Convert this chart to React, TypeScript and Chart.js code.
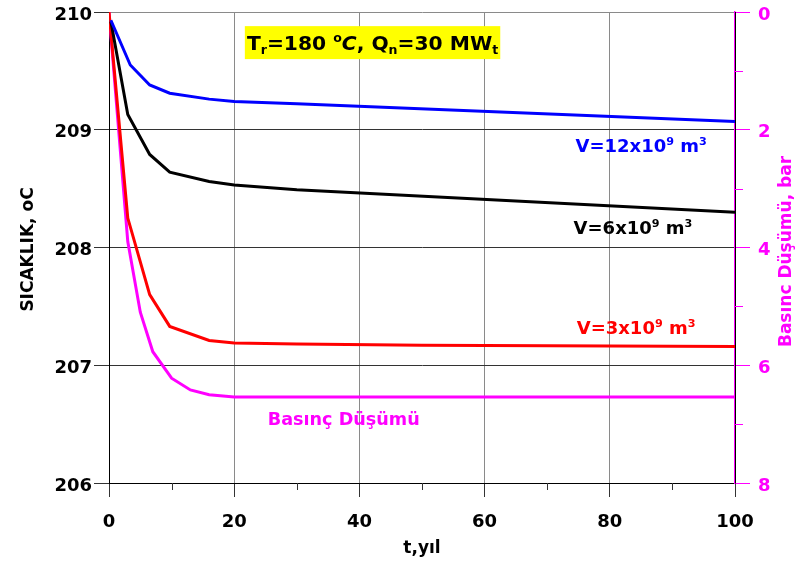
import React, { useEffect, useRef } from 'react';
import { Chart, registerables } from 'chart.js';
Chart.register(...registerables);

// ---- data ----
const blueYears = [0.3, 3.4, 6.5, 9.7, 16, 20, 30, 100];
const blueTemps = [209.93, 209.55, 209.38, 209.31, 209.26, 209.24, 209.22, 209.07];

const blackYears = [0.3, 3, 6.5, 9.7, 16, 20, 30, 100];
const blackTemps = [209.92, 209.13, 208.79, 208.64, 208.56, 208.53, 208.49, 208.3];

const redYears = [0, 3, 6.5, 9.7, 16, 20, 30, 50, 100];
const redTemps = [210, 208.25, 207.6, 207.33, 207.21, 207.19, 207.18, 207.17, 207.16];

const pressYears = [0, 3, 5, 7, 10, 13, 16, 20, 100];
const pressDrop = [0, 3.9, 5.1, 5.77, 6.22, 6.42, 6.5, 6.54, 6.54];

const xTickValues = [0, 20, 40, 60, 80, 100];
const xMinorTicks = [10, 30, 50, 70, 90];
const pressMinorTicks = [1, 3, 5, 7];

const FONT = 'DejaVu Sans';
const BLUE = '#0000FF';
const RED = '#FF0000';
const MAG = '#FF00FF';

type Run = { t: string; mode?: 'sub' | 'sup'; italic?: boolean };

function runFont(r: Run, size: number) {
  const s = r.mode ? size * 0.62 : size;
  return `${r.italic ? 'italic ' : ''}bold ${s}px "${FONT}"`;
}
function richWidth(ctx: CanvasRenderingContext2D, runs: Run[], size: number) {
  let w = 0;
  for (const r of runs) {
    ctx.font = runFont(r, size);
    w += ctx.measureText(r.t).width;
  }
  return w;
}
function drawRich(
  ctx: CanvasRenderingContext2D,
  runs: Run[],
  cx: number,
  cy: number,
  maxSize: number,
  targetWidth: number,
  color: string
) {
  let size = maxSize;
  const w0 = richWidth(ctx, runs, size);
  if (w0 > targetWidth) size = (size * targetWidth) / w0;
  const w = richWidth(ctx, runs, size);
  let x = cx - w / 2;
  const base = cy + size * 0.36;
  ctx.save();
  ctx.fillStyle = color;
  ctx.textBaseline = 'alphabetic';
  ctx.textAlign = 'left';
  for (const r of runs) {
    ctx.font = runFont(r, size);
    let y = base;
    if (r.mode === 'sub') y = base + size * 0.22;
    if (r.mode === 'sup') y = base - size * 0.38;
    ctx.fillText(r.t, x, y);
    x += ctx.measureText(r.t).width;
  }
  ctx.restore();
}

const titleRuns: Run[] = [
  { t: 'T' }, { t: 'r', mode: 'sub' }, { t: '=180 ' }, { t: 'o', mode: 'sup' }, { t: 'C', italic: true },
  { t: ', Q' }, { t: 'n', mode: 'sub' }, { t: '=30 MW' }, { t: 't', mode: 'sub' },
];
const v12Runs: Run[] = [{ t: 'V=12x10' }, { t: '9', mode: 'sup' }, { t: ' m' }, { t: '3', mode: 'sup' }];
const v6Runs: Run[] = [{ t: 'V=6x10' }, { t: '9', mode: 'sup' }, { t: ' m' }, { t: '3', mode: 'sup' }];
const v3Runs: Run[] = [{ t: 'V=3x10' }, { t: '9', mode: 'sup' }, { t: ' m' }, { t: '3', mode: 'sup' }];
const pressRuns: Run[] = [{ t: 'Basınç Düşümü' }];

const annotationPlugin = {
  id: 'annots',
  afterDatasetsDraw(chart: any) {
    const ctx: CanvasRenderingContext2D = chart.ctx;
    const xs = chart.scales.x;
    const ys = chart.scales.y;
    const y1 = chart.scales.y1;
    const area = chart.chartArea;

    // right border (black) under the magenta axis
    ctx.save();
    ctx.lineWidth = 1;
    ctx.strokeStyle = '#000';
    ctx.beginPath();
    ctx.moveTo(area.right + 0.5, area.top);
    ctx.lineTo(area.right + 0.5, area.bottom);
    ctx.stroke();

    // minor ticks
    ctx.strokeStyle = '#333';
    for (const v of xMinorTicks) {
      const px = Math.round(xs.getPixelForValue(v)) + 0.5;
      ctx.beginPath();
      ctx.moveTo(px, area.bottom);
      ctx.lineTo(px, area.bottom + 7);
      ctx.stroke();
    }
    ctx.strokeStyle = MAG;
    for (const v of pressMinorTicks) {
      const py = Math.round(y1.getPixelForValue(v)) + 0.5;
      ctx.beginPath();
      ctx.moveTo(area.right, py);
      ctx.lineTo(area.right + 8, py);
      ctx.stroke();
    }
    ctx.restore();

    // title box
    const bx0 = xs.getPixelForValue(21.7);
    const bx1 = xs.getPixelForValue(62.5);
    const by0 = ys.getPixelForValue(209.88);
    const by1 = ys.getPixelForValue(209.6);
    ctx.save();
    ctx.fillStyle = '#FFFF00';
    ctx.fillRect(bx0, by0, bx1 - bx0, by1 - by0);
    ctx.restore();
    drawRich(ctx, titleRuns, (bx0 + bx1) / 2, (by0 + by1) / 2, 21, bx1 - bx0 - 4, '#000');

    drawRich(ctx, v12Runs, xs.getPixelForValue(85), ys.getPixelForValue(208.87), 18, 132, BLUE);
    drawRich(ctx, v6Runs, xs.getPixelForValue(83.7), ys.getPixelForValue(208.17), 18, 120, '#000');
    drawRich(ctx, v3Runs, xs.getPixelForValue(84.2), ys.getPixelForValue(207.32), 18, 123, RED);
    drawRich(ctx, pressRuns, xs.getPixelForValue(37.5), ys.getPixelForValue(206.55), 18, 152, MAG);
  },
  afterDraw(chart: any) {
    const ctx: CanvasRenderingContext2D = chart.ctx;
    const area = chart.chartArea;
    const midY = (area.top + area.bottom) / 2;
    ctx.save();
    ctx.textAlign = 'center';
    ctx.textBaseline = 'middle';
    // left title
    ctx.font = `bold 17px "${FONT}"`;
    ctx.fillStyle = '#000';
    ctx.translate(29, midY + 2);
    ctx.rotate(-Math.PI / 2);
    ctx.fillText('SICAKLIK, oC', 0, 0);
    ctx.restore();

    ctx.save();
    ctx.textAlign = 'center';
    ctx.textBaseline = 'middle';
    ctx.font = `bold 17px "${FONT}"`;
    ctx.fillStyle = MAG;
    ctx.translate(787, midY + 4);
    ctx.rotate(-Math.PI / 2);
    ctx.fillText('Basınc Düşümü, bar', 0, 0);
    ctx.restore();

    ctx.save();
    ctx.textAlign = 'center';
    ctx.textBaseline = 'middle';
    ctx.font = `bold 17px "${FONT}"`;
    ctx.fillStyle = '#000';
    ctx.fillText('t,yıl', (area.left + area.right) / 2, 549);
    ctx.restore();
  },
};

const toPts = (xs: number[], ys: number[]) => xs.map((x, i) => ({ x, y: ys[i] }));

export default function App() {
  const ref = useRef<HTMLCanvasElement | null>(null);
  useEffect(() => {
    document.body.style.margin = '0';
    const canvas = ref.current!;
    const line = (label: string, data: any, color: string, axis: string) => ({
      label,
      data,
      borderColor: color,
      backgroundColor: color,
      borderWidth: 3,
      pointRadius: 0,
      tension: 0,
      fill: false,
      yAxisID: axis,
    });
    const chart = new Chart(canvas, {
      type: 'line',
      data: {
        datasets: [
          line('V=12x10^9 m3', toPts(blueYears, blueTemps), BLUE, 'y'),
          line('V=6x10^9 m3', toPts(blackYears, blackTemps), '#000000', 'y'),
          line('V=3x10^9 m3', toPts(redYears, redTemps), RED, 'y'),
          line('Basınç Düşümü', toPts(pressYears, pressDrop), MAG, 'y1'),
        ],
      },
      options: {
        responsive: false,
        animation: false,
        layout: { padding: { top: 12, left: 0, right: 0, bottom: 0 } },
        plugins: { legend: { display: false }, tooltip: { enabled: false } },
        scales: {
          x: {
            type: 'linear',
            min: 0,
            max: 100,
            afterBuildTicks: (s: any) => {
              s.ticks = xTickValues.map((v) => ({ value: v }));
            },
            afterFit: (s: any) => {
              s.height = 89;
              s.paddingLeft = 0;
              s.paddingRight = 0;
            },
            ticks: {
              font: { family: FONT, size: 18, weight: 'bold' },
              color: '#000',
              padding: 15,
              maxRotation: 0,
            },
            grid: { color: '#8a8a8a', lineWidth: 1, tickLength: 14, tickColor: '#333' },
            border: { color: '#000', width: 1 },
          },
          y: {
            type: 'linear',
            position: 'left',
            min: 206,
            max: 210,
            ticks: {
              stepSize: 1,
              font: { family: FONT, size: 18, weight: 'bold' },
              color: '#000',
              padding: 2,
              labelOffset: 3,
            },
            afterFit: (s: any) => {
              s.width = 109;
              s.paddingTop = 0;
              s.paddingBottom = 0;
            },
            grid: {
              color: (c: any) => (c.tick && c.tick.value === 210 ? '#8a8a8a' : '#333'),
              lineWidth: 1,
              tickLength: 15,
              tickColor: '#333',
            },
            border: { color: '#000', width: 1 },
          },
          y1: {
            type: 'linear',
            position: 'right',
            min: 0,
            max: 8,
            reverse: true,
            ticks: {
              stepSize: 2,
              font: { family: FONT, size: 18, weight: 'bold' },
              color: MAG,
              padding: 8,
              labelOffset: 3,
            },
            afterFit: (s: any) => {
              s.width = 60;
              s.paddingTop = 0;
              s.paddingBottom = 0;
            },
            grid: { drawOnChartArea: false, tickLength: 15, tickColor: MAG, lineWidth: 1 },
            border: { color: MAG, width: 1.5 },
          },
        },
      } as any,
      plugins: [annotationPlugin],
    });
    return () => chart.destroy();
  }, []);
  return (
    <div style={{ position: 'absolute', left: 0, top: 0, width: 795, height: 572 }}>
      <canvas ref={ref} width={795} height={572} />
    </div>
  );
}
